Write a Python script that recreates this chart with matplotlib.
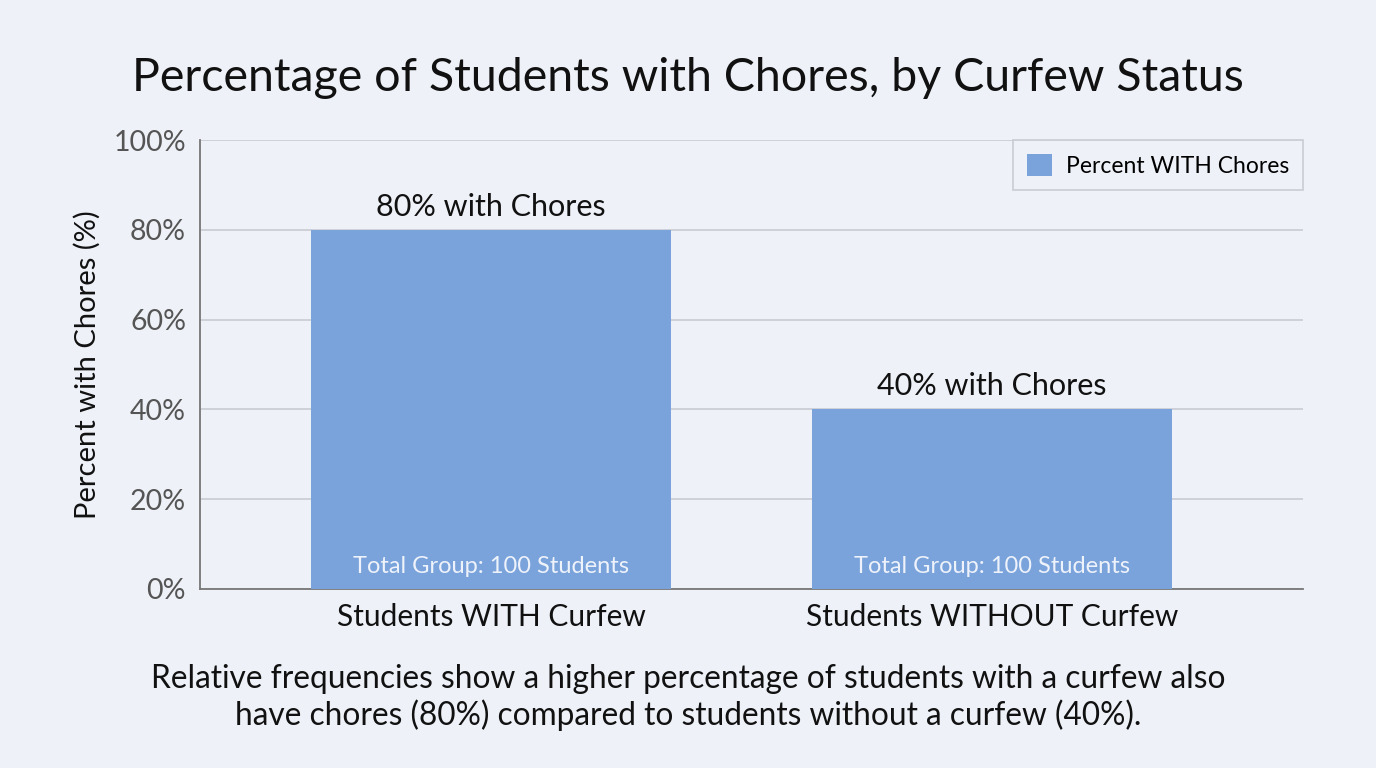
import numpy as np
import matplotlib.pyplot as plt

plt.rcParams['font.family'] = ['Lato', 'DejaVu Sans']

groups = ['Students WITH Curfew', 'Students WITHOUT Curfew']
pct_chores = [80, 40]
group_totals = [100, 100]
yticks = [0, 20, 40, 60, 80, 100]

bg = '#eef2f8'
bar_color = '#7aa3db'

fig = plt.figure(figsize=(13.76, 7.68), dpi=100, facecolor=bg)
ax = fig.add_axes([0.1453, 0.2331, 0.8016, 0.5846])
ax.set_facecolor(bg)

x = np.arange(len(groups))
bars = ax.bar(x, pct_chores, width=0.72, color=bar_color, label='Percent WITH Chores', zorder=3)

for xi, v, n in zip(x, pct_chores, group_totals):
    ax.text(xi, v + 2.0, f'{v}% with Chores', ha='center', va='bottom', fontsize=22, color='#111111')
    ax.text(xi, 5, f'Total Group: {n} Students', ha='center', va='center', fontsize=17,
            color='#eef2fa', zorder=4)

ax.set_xlim(-0.581, 1.621)
ax.set_ylim(0, 100)
ax.set_yticks(yticks)
ax.set_yticklabels([f'{t}%' for t in yticks], fontsize=20.5, color='#555555')
ax.set_xticks(x)
ax.set_xticklabels(groups, fontsize=21.5, color='#111111')
ax.tick_params(axis='y', length=0, pad=10)
ax.tick_params(axis='x', length=0, pad=10)
ax.grid(axis='y', color='#c8ccd2', linewidth=1.2, zorder=0)
ax.set_axisbelow(True)

for s in ['top', 'right']:
    ax.spines[s].set_visible(False)
ax.spines['left'].set_color('#777777')
ax.spines['bottom'].set_color('#777777')
ax.spines['left'].set_linewidth(1.3)
ax.spines['bottom'].set_linewidth(1.3)

ax.set_ylabel('Percent with Chores (%)', fontsize=21, color='#111111', labelpad=9)

leg = ax.legend(loc='upper right', fontsize=16.5, frameon=True, fancybox=False,
                handlelength=1.1, handleheight=1.1, borderpad=0.6, borderaxespad=0,
                handletextpad=0.6, bbox_to_anchor=(1.0, 1.0))
leg.get_frame().set_facecolor(bg)
leg.get_frame().set_edgecolor('#c0c4ca')
leg.get_frame().set_linewidth(1.2)

fig.text(0.5, 0.898, 'Percentage of Students with Chores, by Curfew Status', ha='center', va='center',
         fontsize=33.5, color='#111111')
fig.text(0.5, 0.092, 'Relative frequencies show a higher percentage of students with a curfew also\n'
         'have chores (80%) compared to students without a curfew (40%).',
         ha='center', va='center', fontsize=22.8, color='#111111', linespacing=1.2)

fig.savefig('out.png', dpi=100, facecolor=bg)
